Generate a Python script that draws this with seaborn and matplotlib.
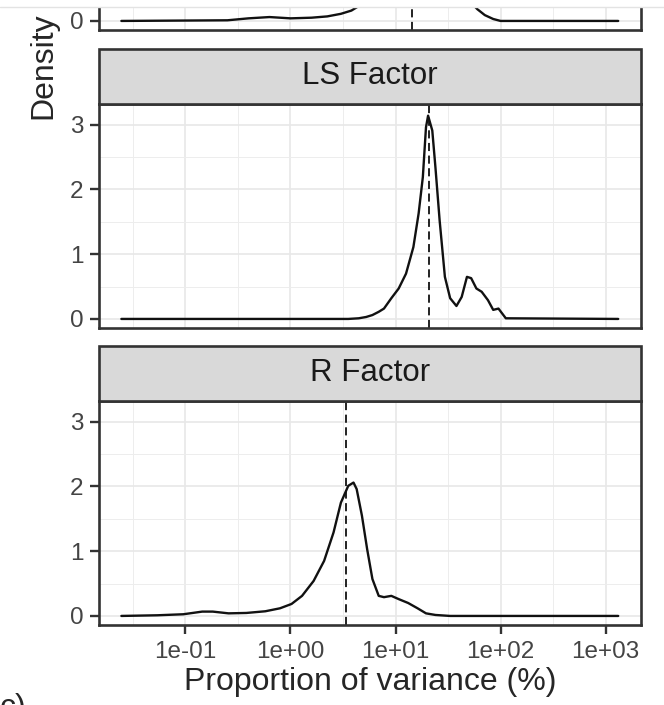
import numpy as np
import pandas as pd
import seaborn as sns
import matplotlib.pyplot as plt
from matplotlib.patches import Rectangle
from matplotlib.lines import Line2D
from matplotlib.ticker import FixedLocator, FuncFormatter

# curves: log10(proportion of variance, %) and density
top_log = [-1.61, -0.6, -0.4, -0.2, 0.0, 0.2, 0.35, 0.48, 0.58, 0.66, 0.75, 0.9,
           1.05, 1.2, 1.35, 1.5, 1.62, 1.72, 1.78, 1.85, 1.93, 2.0, 3.12]
top_dens = [0, 0.01, 0.04, 0.06, 0.04, 0.05, 0.07, 0.11, 0.16, 0.24, 0.45, 0.95,
            1.35, 1.4, 1.1, 0.7, 0.45, 0.28, 0.18, 0.09, 0.03, 0, 0]

ls_log = [-1.61, 0.55, 0.65, 0.72, 0.78, 0.84, 0.89, 0.96, 1.03, 1.10, 1.17, 1.22,
          1.26, 1.29, 1.31, 1.35, 1.38, 1.42, 1.47, 1.52, 1.58, 1.63, 1.68, 1.72,
          1.77, 1.82, 1.88, 1.93, 1.98, 2.05, 3.12]
ls_dens = [0, 0, 0.01, 0.03, 0.06, 0.11, 0.16, 0.32, 0.47, 0.70, 1.11, 1.63,
           2.19, 2.96, 3.14, 2.91, 2.34, 1.52, 0.65, 0.32, 0.20, 0.34, 0.65, 0.63,
           0.47, 0.42, 0.29, 0.14, 0.16, 0.01, 0]

r_log = [-1.61, -1.27, -1.02, -0.84, -0.74, -0.59, -0.42, -0.24, -0.10, 0.01, 0.11,
         0.22, 0.32, 0.41, 0.48, 0.55, 0.60, 0.63, 0.68, 0.73, 0.78, 0.84, 0.89,
         0.96, 1.03, 1.12, 1.21, 1.29, 1.38, 1.52, 3.12]
r_dens = [0, 0.01, 0.026, 0.067, 0.067, 0.04, 0.046, 0.072, 0.118, 0.185, 0.31,
          0.54, 0.85, 1.29, 1.75, 2.01, 2.06, 1.96, 1.55, 1.03, 0.57, 0.31, 0.29,
          0.31, 0.26, 0.20, 0.118, 0.04, 0.015, 0, 0]

factors = ["K Factor", "LS Factor", "R Factor"]
dashed_vals = [14.4, 20.9, 3.41]
x_ticks = [1e-1, 1e0, 1e1, 1e2, 1e3]
y_ticks = [0, 1, 2, 3]

frames = []
for name, lg, dn in zip(factors, [top_log, ls_log, r_log], [top_dens, ls_dens, r_dens]):
    frames.append(pd.DataFrame({"factor": name,
                                "proportion": 10 ** np.array(lg),
                                "density": dn}))
df = pd.concat(frames, ignore_index=True)

sns.set_theme(style="white")
plt.rcParams['font.family'] = ['Liberation Sans', 'DejaVu Sans']

W_PX, H_PX = 664, 705
fig = plt.figure(figsize=(W_PX / 100, H_PX / 100), dpi=100)

left, width = 99 / W_PX, 542 / W_PX
panel_px = 224
strip_px = 55
bottoms_px = [30, 328, 625]

for i, (name, bpx, med) in enumerate(zip(factors, bottoms_px, dashed_vals)):
    ax = fig.add_axes([left, 1 - bpx / H_PX, width, panel_px / H_PX])
    sub = df[df["factor"] == name]
    sns.lineplot(data=sub, x="proportion", y="density", ax=ax, color="#111111",
                 lw=1.7, sort=False, estimator=None, zorder=3)
    ax.axvline(med, color="#111111", lw=1.3, ls=(0, (4.5, 2.5)), zorder=3)

    ax.set_xscale("log")
    ax.set_xlim(10 ** -1.823, 10 ** 3.337)
    ax.set_ylim(-0.14, 3.32)
    ax.xaxis.set_major_locator(FixedLocator(x_ticks))
    ax.xaxis.set_minor_locator(FixedLocator(10 ** np.arange(-1.5, 3.0, 1.0)))
    ax.xaxis.set_major_formatter(FuncFormatter(lambda v, p: f"{v:.0e}"))
    ax.yaxis.set_major_locator(FixedLocator(y_ticks))
    ax.yaxis.set_minor_locator(FixedLocator([0.5, 1.5, 2.5]))

    ax.grid(which="major", color="#E8E8E8", lw=1.2)
    ax.grid(which="minor", color="#EDEDED", lw=0.7)
    ax.set_axisbelow(True)
    for sp in ax.spines.values():
        sp.set_color("#333333")
        sp.set_linewidth(1.9)
        sp.set_zorder(5)

    ax.tick_params(which="major", length=6.2, width=1.7, color="#333333",
                   labelsize=17.5, labelcolor="#444444", pad=5,
                   left=True, bottom=(i == 2), labelbottom=(i == 2))
    ax.tick_params(which="minor", length=0)
    ax.set_ylabel("")
    if i == 2:
        ax.set_xlabel("Proportion of variance (%)", fontsize=23, labelpad=3)
    else:
        ax.set_xlabel("")

    if i == 0:
        # only the bottom of this panel is inside the picture
        for lab in ax.get_yticklabels()[1:]:
            lab.set_visible(False)
        continue

    sh = strip_px / panel_px
    ax.add_patch(Rectangle((0, 1), 1, sh, transform=ax.transAxes, clip_on=False,
                           facecolor="#D9D9D9", edgecolor="#333333", lw=1.9, zorder=6))
    ax.text(0.5, 1 + sh / 2, name, transform=ax.transAxes, ha="center", va="center",
            fontsize=22.5, color="#1A1A1A", zorder=7)

fig.text(43.5 / W_PX, 1 - 66 / H_PX, "Density", rotation=90, ha="center",
         va="center", fontsize=23)
fig.text(0.0, 12 / H_PX, "c)", ha="left", va="top", fontsize=23)

# screenshot edge at the very top
fig.patches.append(Rectangle((0, 1 - 7 / H_PX), 1, 7 / H_PX, transform=fig.transFigure,
                             facecolor="white", edgecolor="none", zorder=20))
fig.lines.append(Line2D([0, 1], [1 - 7 / H_PX] * 2, transform=fig.transFigure,
                        color="#E3E3E3", lw=1, zorder=21))

fig.savefig("out.png", dpi=100)
